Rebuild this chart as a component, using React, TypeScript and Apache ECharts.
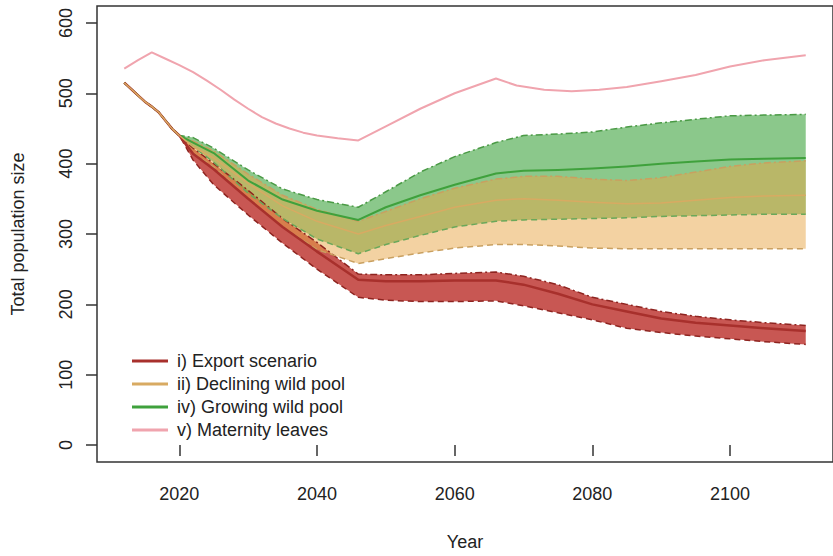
import React, { useEffect, useRef } from "react";
import * as echarts from "echarts";

// Shared trajectory 2012-2020 (all scenarios identical)
const COMMON_YEARS = [2012, 2013, 2014, 2015, 2016, 2017, 2018, 2019, 2020];
const COMMON_VALUES = [515, 506, 497, 488, 481, 473, 461, 449, 440];

const TAIL_YEARS = [2022, 2025, 2030, 2035, 2040, 2046, 2050, 2055, 2060, 2066, 2070, 2075, 2080, 2085, 2090, 2095, 2100, 2105, 2111];

const RED_UPPER = [422, 400, 362, 322, 288, 243, 242, 242, 244, 246, 240, 228, 210, 200, 190, 183, 178, 174, 170];
const RED_MEAN = [414, 392, 350, 310, 275, 235, 233, 233, 234, 234, 228, 215, 200, 190, 180, 174, 170, 166, 162];
const RED_LOWER = [405, 370, 327, 287, 250, 210, 206, 204, 204, 205, 198, 188, 178, 166, 160, 155, 151, 147, 143];

const ORANGE_UPPER = [432, 418, 385, 355, 335, 318, 332, 350, 365, 378, 382, 382, 378, 376, 380, 388, 396, 401, 404];
const ORANGE_MEAN = [424, 408, 372, 340, 318, 300, 312, 325, 338, 348, 350, 348, 345, 343, 344, 348, 352, 354, 355];
const ORANGE_LOWER = [415, 395, 350, 310, 278, 258, 265, 273, 280, 285, 285, 283, 280, 279, 279, 279, 279, 279, 279];

const GREEN_UPPER = [437, 422, 391, 364, 349, 338, 360, 388, 410, 430, 440, 442, 445, 452, 458, 463, 468, 469, 470];
const GREEN_MEAN = [430, 415, 376, 349, 333, 320, 338, 355, 370, 386, 390, 391, 393, 396, 400, 403, 406, 407, 408];
const GREEN_LOWER = [424, 402, 358, 322, 293, 272, 285, 298, 310, 318, 320, 321, 322, 323, 325, 326, 327, 328, 328];

const PINK_YEARS = [2012, 2014, 2016, 2018, 2020, 2022, 2024, 2026, 2028, 2030, 2032, 2034, 2036, 2038, 2040, 2043, 2046, 2050, 2055, 2060, 2066, 2069, 2073, 2077, 2081, 2085, 2090, 2095, 2100, 2105, 2111];
const PINK_VALUES = [535, 547, 558, 549, 540, 530, 518, 505, 491, 478, 466, 457, 450, 444, 440, 436, 433, 453, 478, 500, 521, 511, 505, 503, 505, 509, 517, 526, 538, 547, 554];

const X_TICKS = [2020, 2040, 2060, 2080, 2100];
const Y_TICKS = [0, 100, 200, 300, 400, 500, 600];

const NAMES = ["i) Export scenario", "ii) Declining wild pool", "iv) Growing wild pool", "v) Maternity leaves"];

const YEARS = COMMON_YEARS.concat(TAIL_YEARS);
const full = (tail: number[]) => COMMON_VALUES.concat(tail);
const pairs = (xs: number[], ys: number[]) => xs.map((x, i) => [x, ys[i]]);

const FONT = "'Liberation Sans', Arial, Helvetica, sans-serif";

function band(upperTail: number[], lowerTail: number[], fill: string) {
  const up = full(upperTail);
  const lo = full(lowerTail);
  return {
    type: "custom",
    silent: true,
    z: 1,
    data: [[YEARS[0], up[0]]],
    renderItem: (params: any, api: any) => {
      const pts: number[][] = [];
      for (let i = 0; i < YEARS.length; i++) pts.push(api.coord([YEARS[i], up[i]]));
      for (let i = YEARS.length - 1; i >= 0; i--) pts.push(api.coord([YEARS[i], lo[i]]));
      return { type: "polygon", shape: { points: pts }, style: { fill, stroke: "none" } };
    },
  };
}

function line(name: string, ys: number[], color: string, width: number, type: any, xs = YEARS) {
  return {
    type: "line",
    name,
    data: pairs(xs, ys),
    symbol: "none",
    silent: true,
    z: 3,
    itemStyle: { color },
    lineStyle: { color, width, type, join: "round", cap: "butt" },
  };
}

export default function App() {
  const ref = useRef<HTMLDivElement>(null);
  useEffect(() => {
    if (!ref.current) return;
    const chart = echarts.init(ref.current, undefined, { renderer: "svg" });
    const dashDot = [7, 3, 2, 3];
    const dashed = [6, 4];
    const option: any = {
      animation: false,
      backgroundColor: "#ffffff",
      grid: {
        left: 97,
        top: 6,
        width: 748,
        height: 462,
        show: true,
        borderColor: "#333",
        borderWidth: 1.5,
        backgroundColor: "transparent",
      },
      xAxis: {
        type: "value",
        min: 2008.04,
        max: 2114.96,
        name: "Year",
        nameLocation: "middle",
        nameGap: 71,
        nameTextStyle: { fontSize: 18, color: "#222", fontFamily: FONT },
        axisLine: { show: false },
        axisTick: { show: true, length: 11, lineStyle: { color: "#333", width: 1.5 }, customValues: X_TICKS },
        axisLabel: {
          customValues: X_TICKS,
          formatter: (v: number) => String(v),
          fontSize: 18,
          color: "#222",
          fontFamily: FONT,
          margin: 23,
        },
        splitLine: { show: false },
      },
      yAxis: {
        type: "value",
        min: -24,
        max: 624,
        name: "Total population size",
        nameLocation: "middle",
        nameGap: 70,
        nameRotate: 90,
        nameTextStyle: { fontSize: 18, color: "#222", fontFamily: FONT },
        axisLine: { show: false },
        axisTick: { show: true, length: 11, lineStyle: { color: "#333", width: 1.5 }, customValues: Y_TICKS },
        axisLabel: {
          customValues: Y_TICKS,
          formatter: (v: number) => String(v),
          rotate: 90,
          fontSize: 18,
          color: "#222",
          fontFamily: FONT,
          margin: 22,
        },
        splitLine: { show: false },
      },
      legend: {
        data: NAMES,
        orient: "vertical",
        left: 127,
        top: 345,
        icon: "rect",
        itemWidth: 36,
        itemHeight: 3,
        itemGap: 1,
        selectedMode: false,
        textStyle: { fontSize: 18, color: "#222", fontFamily: FONT, lineHeight: 22, padding: [0, 0, 0, 4] },
      },
      series: [
        band(RED_UPPER, RED_LOWER, "rgba(185,40,35,0.78)"),
        band(GREEN_UPPER, GREEN_LOWER, "rgba(55,160,55,0.58)"),
        band(ORANGE_UPPER, ORANGE_LOWER, "rgba(232,165,70,0.5)"),
        line("red-upper", full(RED_UPPER), "#8e2420", 1.5, dashDot),
        line("red-lower", full(RED_LOWER), "#8e2420", 1.5, dashed),
        line("orange-upper", full(ORANGE_UPPER), "#c9a060", 1.5, dashDot),
        line("orange-lower", full(ORANGE_LOWER), "#c9a060", 1.5, dashed),
        line("green-upper", full(GREEN_UPPER), "#4a9a45", 1.5, dashDot),
        line("green-lower", full(GREEN_LOWER), "#6aa85a", 1.5, dashed),
        line(NAMES[2], full(GREEN_MEAN), "#3fa13c", 2, "solid"),
        line(NAMES[0], full(RED_MEAN), "#a8302c", 2.5, "solid"),
        line(NAMES[1], full(ORANGE_MEAN), "#d8aa62", 1.5, "solid"),
        line(NAMES[3], PINK_VALUES, "#f0a4ae", 2, "solid", PINK_YEARS),
      ],
    };
    chart.setOption(option);
    return () => chart.dispose();
  }, []);
  return (
    <div
      ref={ref}
      style={{ position: "fixed", left: 0, top: 0, width: 833, height: 556, background: "#fff" }}
    />
  );
}
